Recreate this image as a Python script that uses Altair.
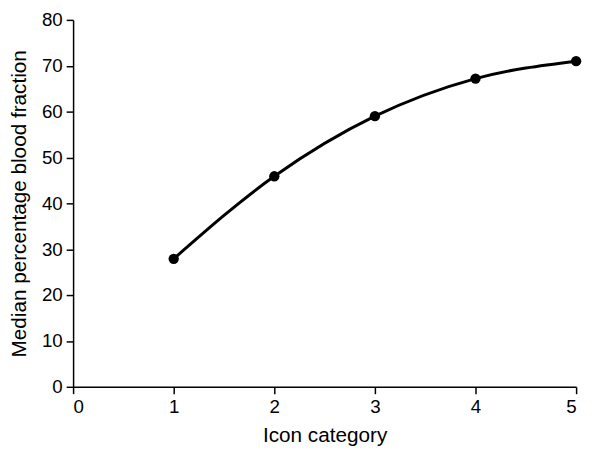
import altair as alt
import pandas as pd

icon_category = [1, 2, 3, 4, 5]
median_blood_fraction = [27.9, 45.9, 59.0, 67.2, 71.0]

df = pd.DataFrame({"x": icon_category, "y": median_blood_fraction})

FONT = "Liberation Sans"

x_enc = alt.X("x:Q", title="Icon category",
              scale=alt.Scale(domain=[0, 5], nice=False),
              axis=alt.Axis(values=[0, 1, 2, 3, 4, 5], format="d", grid=False,
                            titlePadding=8))
y_enc = alt.Y("y:Q", title="Median percentage blood fraction",
              scale=alt.Scale(domain=[0, 80], nice=False),
              axis=alt.Axis(values=[0, 10, 20, 30, 40, 50, 60, 70, 80], grid=False,
                            titlePadding=12))

line = alt.Chart(df).mark_line(color="black", strokeWidth=3, interpolate="monotone").encode(
    x=x_enc, y=y_enc)
pts = alt.Chart(df).mark_point(color="black", filled=True, opacity=1, size=110).encode(
    x="x:Q", y="y:Q")

chart = (line + pts).properties(
    width=510, height=372,
    padding={"left": 0, "top": 0, "right": 2, "bottom": 0},
).configure_view(stroke=None).configure_axis(
    domainColor="black", tickColor="black", labelColor="black", titleColor="black",
    labelFont=FONT, titleFont=FONT, labelFontSize=19, titleFontSize=21,
    titleFontWeight="normal", tickSize=7, domainWidth=1.5, tickWidth=1.5,
    labelPadding=4,
)

chart.save("out.html", embed_options={"renderer": "svg", "actions": False})
